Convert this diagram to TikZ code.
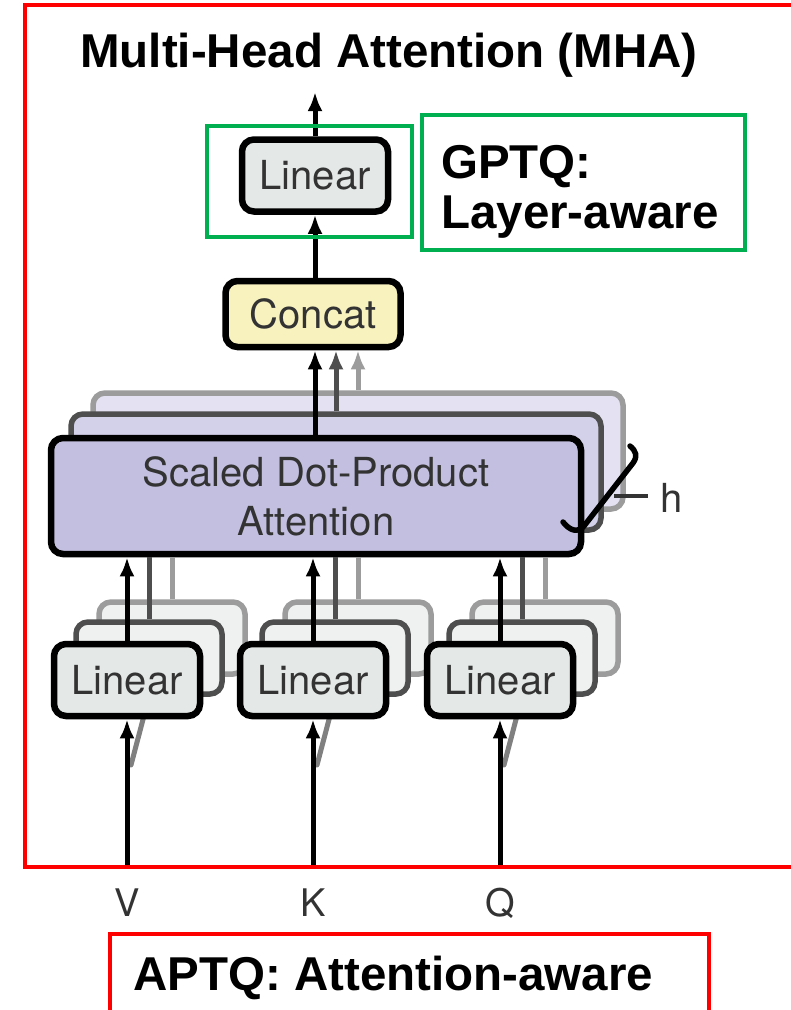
\documentclass[tikz,border=0pt]{standalone}
\usepackage{fontspec}
\setmainfont{Liberation Sans}
\newfontfamily\diagfont{TeX Gyre Heros}
\usetikzlibrary{arrows.meta}

\definecolor{frameRed}{HTML}{FF0000}
\definecolor{frameGreen}{HTML}{00B050}
\definecolor{textGray}{HTML}{333333}
\definecolor{linFill}{HTML}{E4E9E7}
\definecolor{linBackFill}{HTML}{EEF1F0}
\definecolor{concatFill}{HTML}{F8F2BF}
\definecolor{sdpaFill}{HTML}{C3BFE0}
\definecolor{sdpaFillB}{HTML}{D3D0EA}
\definecolor{sdpaFillC}{HTML}{E4E2F2}
\definecolor{edgeB}{HTML}{4E4E4E}
\definecolor{edgeC}{HTML}{9C9C9C}

\begin{document}
\begin{tikzpicture}[x=1pt,y=-1pt,
  label/.style={font=\diagfont\fontsize{40}{49}\selectfont,text=textGray},
  block/.style={label,draw=black,line width=6.5pt,rounded corners=12pt,inner sep=0pt,align=center},
  linbox/.style={block,fill=linFill,minimum width=146pt,minimum height=72pt},
  linback/.style={draw=#1,line width=5.5pt,rounded corners=12pt,fill=linBackFill,
    minimum width=146pt,minimum height=72pt,inner sep=0pt},
  sdpaback/.style={draw=#1,line width=5.5pt,rounded corners=12pt,
    minimum width=530pt,minimum height=116pt,inner sep=0pt},
  tip/.style={-{Latex[length=19pt,width=15pt]}},
  arr/.style={line width=5pt,tip},
  feed/.style={line width=5pt,draw=#1},
  bigtext/.style={font=\bfseries\fontsize{47.5}{47.5}\selectfont},
  redframe/.style={draw=frameRed,line width=4pt},
  greenframe/.style={draw=frameGreen,line width=3.5pt}
]
\useasboundingbox (0,0) rectangle (791,1010);
\clip (0,0) rectangle (791,1010);
\fill[white] (0,0) rectangle (791,1010);

% title
\node[bigtext,anchor=base] (title) at (389,67) {Multi-Head Attention (MHA)};

% output projection and concatenation
\node[linbox] (toplin) at (315,175.5) {Linear};
\node[block,fill=concatFill,minimum width=175pt,minimum height=66pt] (concat) at (313,314) {Concat};
\coordinate (out) at (315,92);

% stacked attention heads (back to front)
\node[sdpaback=edgeC,fill=sdpaFillC] (sdpaC) at (358,451) {};
\node[sdpaback=edgeB,fill=sdpaFillB] (sdpaB) at (336,472) {};
\node[block,fill=sdpaFill,minimum width=530pt,minimum height=116pt] (sdpa) at (316,496)
  {Scaled Dot-Product\\Attention};

% stacked linear projections (back to front)
\foreach \n/\cx in {1/127,2/313,3/500}{
  \node[linback=edgeC] (lin\n C) at (\cx+45,638) {};
  \node[linback=edgeB] (lin\n B) at (\cx+22,658) {};
}

% inputs
\coordinate (vin) at (127,868);
\coordinate (kin) at (313,868);
\coordinate (qin) at (500,868);
\coordinate (vtail) at (131,765);
\coordinate (ktail) at (317,765);
\coordinate (qtail) at (504,765);

% faint feeds into the back projections
\foreach \n/\t in {1/vtail,2/ktail,3/qtail}{
  \draw[feed=black!50,line cap=round] (\t) -- (lin\n B.south);
  \draw[feed=edgeB] (lin\n B.north) -- (lin\n B.north |- sdpa.south);
  \draw[feed=edgeC] (lin\n C.north) -- (lin\n C.north |- sdpa.south);
}

\node[linbox] (lin1) at (127,680) {Linear};
\node[linbox] (lin2) at (313,680) {Linear};
\node[linbox] (lin3) at (500,680) {Linear};

% connectors
\draw[arr] (vin) -- (lin1.south);
\draw[arr] (kin) -- (lin2.south);
\draw[arr] (qin) -- (lin3.south);
\foreach \n in {1,2,3}{
  \draw[arr] (lin\n.north) -- (lin\n.north |- sdpa.south);
}
\draw[arr,draw=edgeC] (sdpaC.north) -- (sdpaC.north |- concat.south);
\draw[arr,draw=edgeB] (sdpaB.north) -- (sdpaB.north |- concat.south);
\draw[arr] (sdpa.north -| toplin.center) -- (concat.south -| toplin.center);
\draw[arr] (concat.north -| toplin.center) -- (toplin.south);
\draw[arr] (toplin.north) -- (out);

% head-count brace
\coordinate (hjoin) at (614,496);
\draw[line width=5.5pt,line cap=round,line join=round]
  (563,522) .. controls (570,531) and (578,533) .. (584,526)
  -- (633,463) .. controls (638,456) and (636,451) .. (630,446);
\draw[line width=3.5pt,draw=textGray] (hjoin) -- (648,496);
\node[label,anchor=base west,inner sep=0pt] (hlab) at (660,512) {h};

% input labels
\node[label,anchor=base,inner sep=0pt,font=\diagfont\fontsize{38}{38}\selectfont] (vlab) at (127,916) {V};
\node[label,anchor=base,inner sep=0pt,font=\diagfont\fontsize{38}{38}\selectfont] (klab) at (313,916) {K};
\node[label,anchor=base,inner sep=0pt,font=\diagfont\fontsize{38}{38}\selectfont] (qlab) at (500,916) {Q};

% scope frames
\draw[redframe] (800,5) -- (25,5) -- (25,867) -- (800,867);
\draw[greenframe] (207,126) rectangle (412,237);
\node[greenframe,minimum width=323pt,minimum height=135pt,anchor=north west] (gptqbox) at (420,113) {};
\node[bigtext,anchor=base west,inner sep=0pt] (gptq1) at (441,178) {GPTQ:};
\node[bigtext,anchor=base west,inner sep=0pt] (gptq2) at (441,228) {Layer-aware};
\draw[redframe] (110,1020) -- (110,934) -- (709,934) -- (709,1020);
\node[bigtext,anchor=base west,inner sep=0pt] (aptq) at (133,990) {APTQ: Attention-aware};
\end{tikzpicture}
\end{document}
